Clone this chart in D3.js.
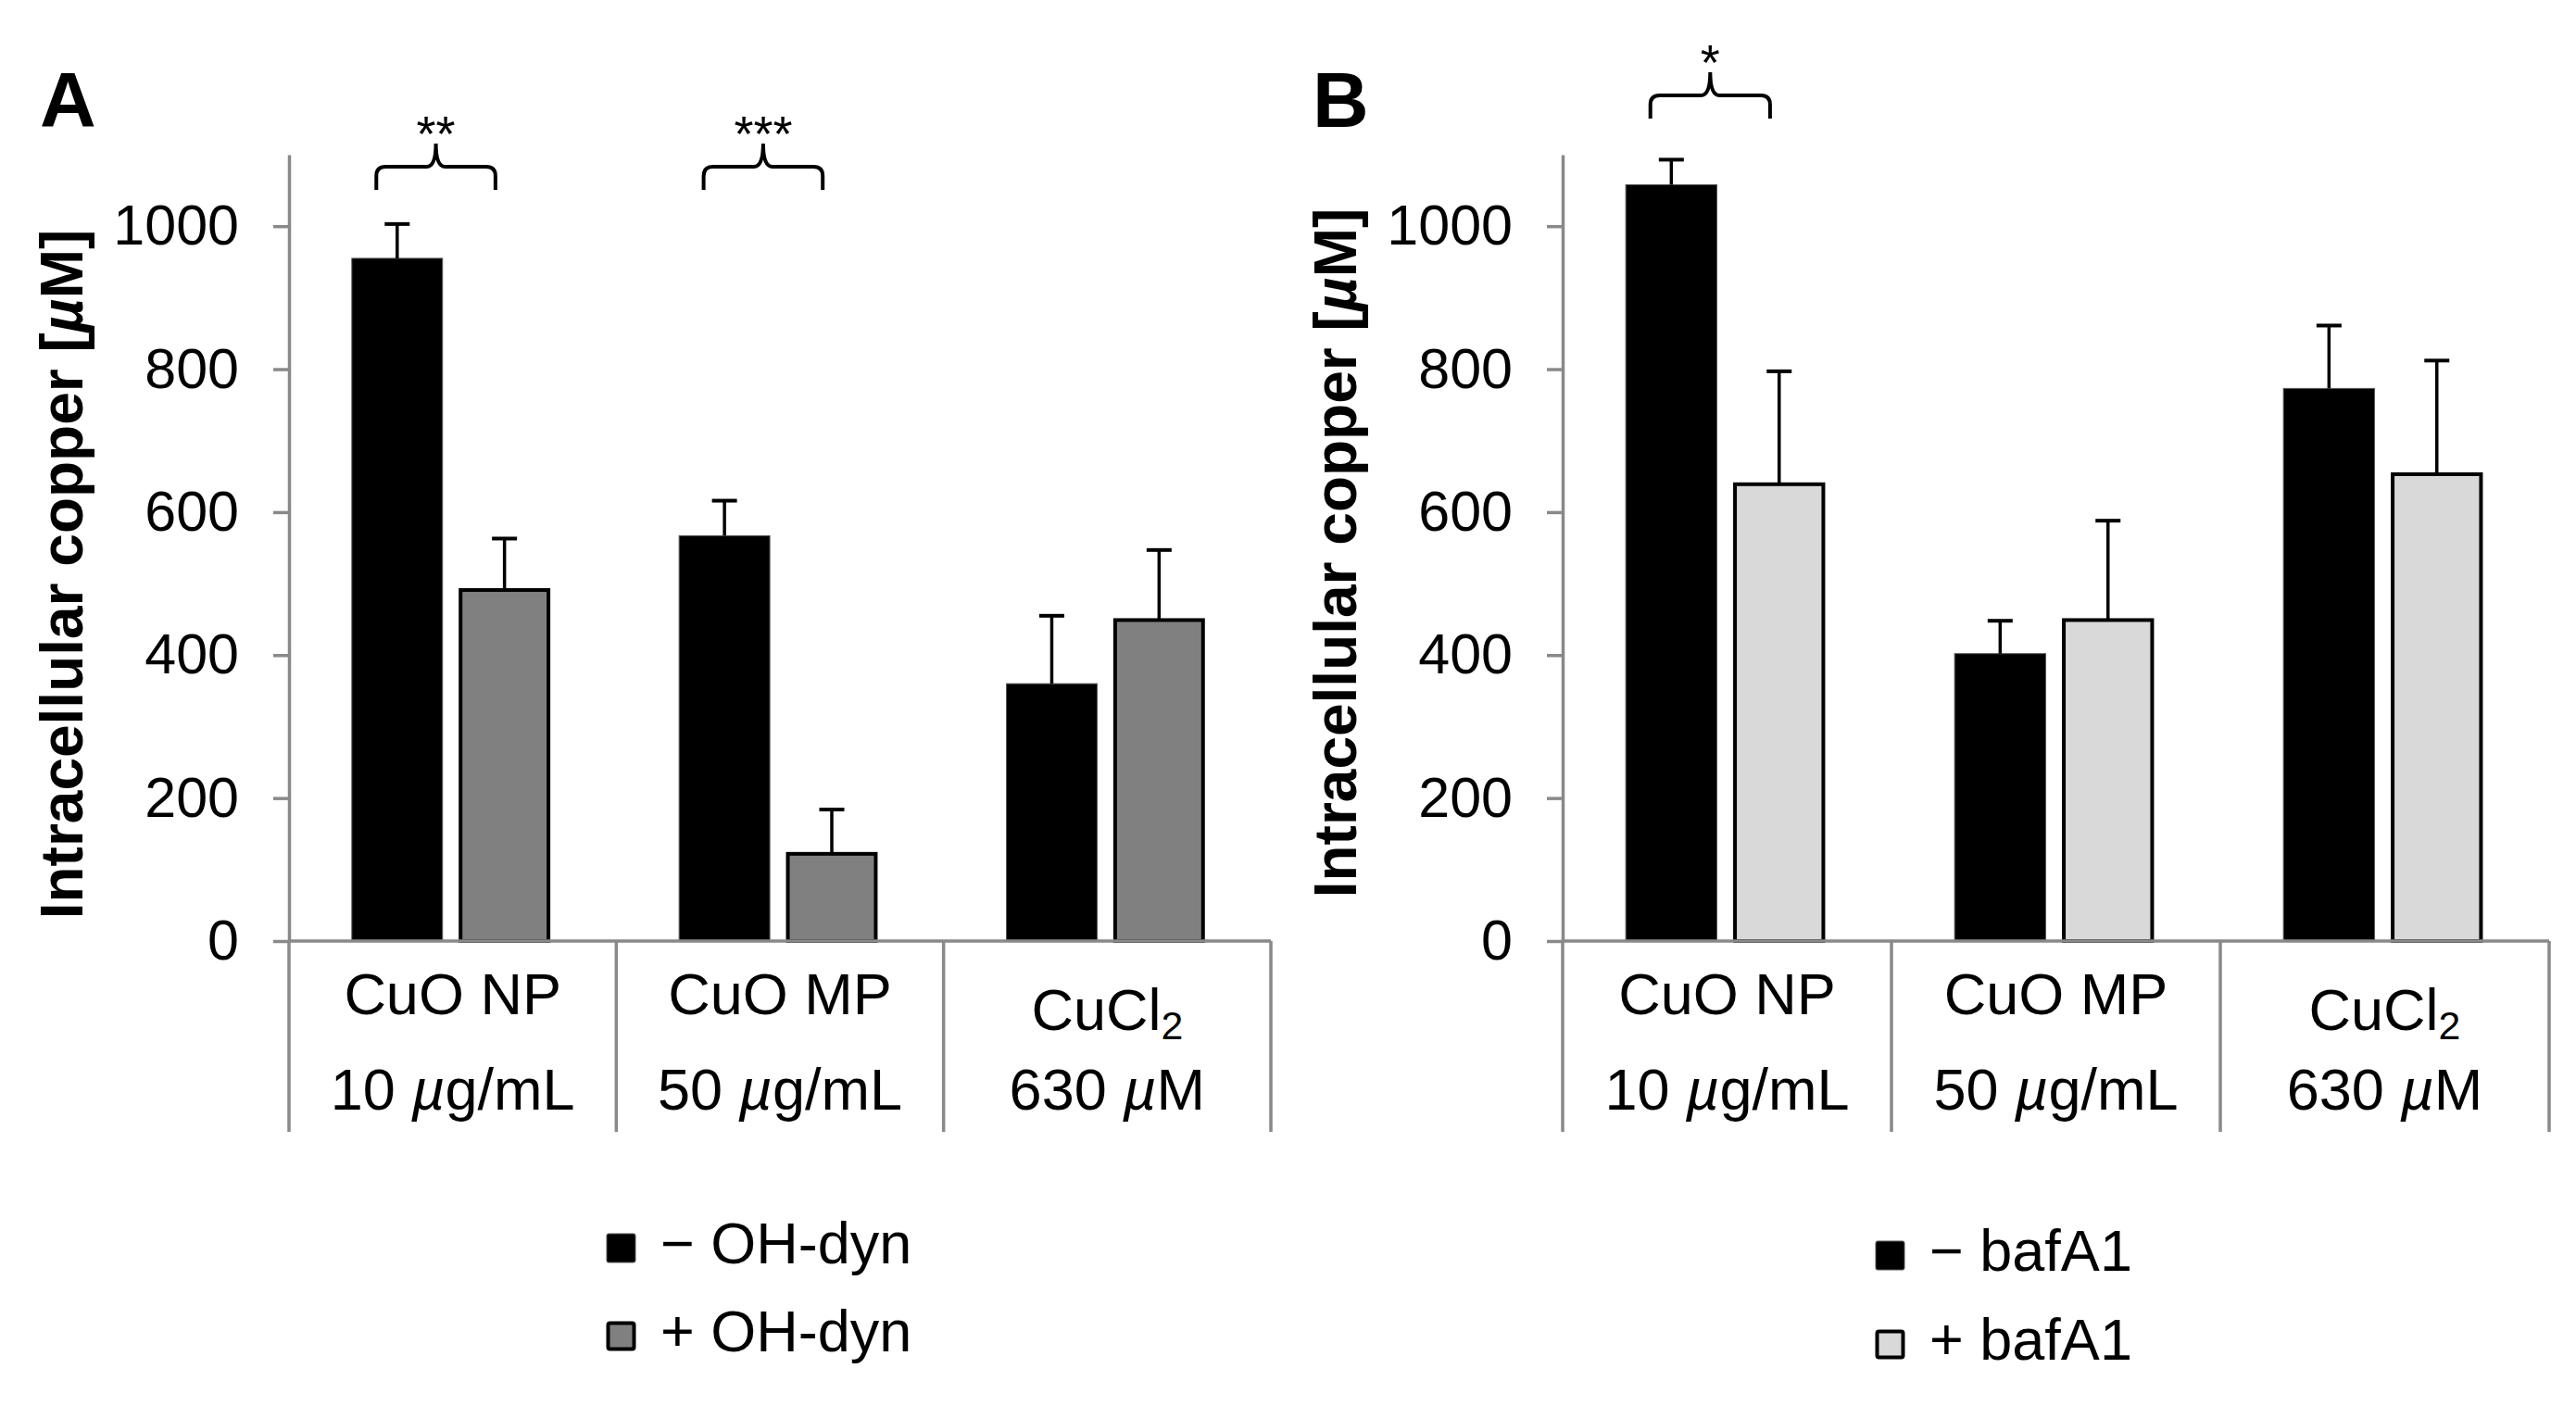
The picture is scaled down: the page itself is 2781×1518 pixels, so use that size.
<!DOCTYPE html>
<html lang="en">
<head>
<meta charset="utf-8">
<title>Intracellular copper</title>
<script src="https://cdn.jsdelivr.net/npm/d3@7"></script>
<style>
  body { margin: 0; background: #fff; }
  svg text { font-family: "Liberation Sans", Arial, Helvetica, sans-serif; fill: #000; }
</style>
</head>
<body>
<script>
// ---- data ----
var categories = ["CuO NP", "CuO MP", "CuCl2"];
var doses = ["10 µg/mL", "50 µg/mL", "630 µM"];
var yTicks = [0, 200, 400, 600, 800, 1000];

// panel A: OH-dyn
var seriesA = ["− OH-dyn", "+ OH-dyn"];
var minusA = [955, 567, 360];
var minusErrA = [48, 49, 95];
var plusA = [491, 122, 449];
var plusErrA = [72, 62, 98];
var sigA = [["CuO NP", "**"], ["CuO MP", "***"]];
var sigLevelA = 1083;

// panel B: bafA1
var seriesB = ["− bafA1", "+ bafA1"];
var minusB = [1058, 402, 773];
var minusErrB = [35, 46, 88];
var plusB = [639, 449, 653];
var plusErrB = [158, 139, 159];
var sigB = [["CuO NP", "*"]];
var sigLevelB = 1183;

// ---- layout ----
var W = 2781, H = 1518;
var axisGrey = "#898989";

var svg = d3.select("body").append("svg")
    .attr("width", W)
    .attr("height", H);

var y = d3.scaleLinear().domain([0, 1100]).range([1016, 167]);

// write text with italic µ, and subscript trailing digits on chemical names
function richText(sel, str, sub) {
    var m = sub ? str.match(/^(.*[A-Za-z])(\d+)$/) : null;
    if (m) {
        sel.append("tspan").text(m[1]);
        sel.append("tspan").attr("font-size", "0.68em").attr("dy", 10).text(m[2]);
        return;
    }
    var parts = str.split("µ");
    parts.forEach(function(p, i) {
        if (i > 0) sel.append("tspan").attr("font-style", "italic").text("µ");
        if (p) sel.append("tspan").text(p);
    });
}

function bracketPath(xl, xr, yh) {
    var xc = (xl + xr) / 2, r = 10, d = 25;
    return "M" + xl + "," + (yh + d) +
        "L" + xl + "," + (yh + r) +
        "Q" + xl + "," + yh + " " + (xl + r) + "," + yh +
        "L" + (xc - r) + "," + yh +
        "Q" + xc + "," + yh + " " + xc + "," + (yh - d) +
        "Q" + xc + "," + yh + " " + (xc + r) + "," + yh +
        "L" + (xr - r) + "," + yh +
        "Q" + xr + "," + yh + " " + xr + "," + (yh + r) +
        "L" + xr + "," + (yh + d);
}

function drawPanel(p) {
    var g = svg.append("g");

    var x0 = d3.scaleBand().domain(categories).range([p.left, p.right]);
    var bw0 = x0.bandwidth();
    var x1 = d3.scaleBand().domain([0, 1])
        .range([0.192 * bw0, 0.797 * bw0])
        .paddingInner(0.155);
    var bw = x1.bandwidth();

    var rows = [];
    categories.forEach(function(c, i) {
        rows.push({cat: c, s: 0, v: p.minus[i], e: p.minusErr[i]});
        rows.push({cat: c, s: 1, v: p.plus[i], e: p.plusErr[i]});
    });

    // bars
    g.selectAll("rect.bar").data(rows).enter().append("rect")
        .attr("class", "bar")
        .attr("x", function(d) { return x0(d.cat) + x1(d.s) + (d.s ? 1.5 : 0); })
        .attr("y", function(d) { return y(d.v); })
        .attr("width", function(d) { return d.s ? bw - 3 : bw; })
        .attr("height", function(d) { return y(0) - y(d.v); })
        .attr("fill", function(d) { return p.colors[d.s]; })
        .attr("stroke", function(d) { return d.s ? "#000" : "#555"; })
        .attr("stroke-width", function(d) { return d.s ? 4 : 1; });

    // error bars (upper only)
    var eb = g.selectAll("g.err").data(rows).enter().append("g").attr("class", "err");
    eb.append("line")
        .attr("x1", function(d) { return x0(d.cat) + x1(d.s) + bw / 2; })
        .attr("x2", function(d) { return x0(d.cat) + x1(d.s) + bw / 2; })
        .attr("y1", function(d) { return y(d.v); })
        .attr("y2", function(d) { return y(d.v + d.e); })
        .attr("stroke", "#000").attr("stroke-width", 3.5);
    eb.append("line")
        .attr("x1", function(d) { return x0(d.cat) + x1(d.s) + bw / 2 - 13.5; })
        .attr("x2", function(d) { return x0(d.cat) + x1(d.s) + bw / 2 + 13.5; })
        .attr("y1", function(d) { return y(d.v + d.e); })
        .attr("y2", function(d) { return y(d.v + d.e); })
        .attr("stroke", "#000").attr("stroke-width", 4);

    // y axis
    var ya = g.append("g")
        .attr("transform", "translate(" + p.left + ",0)")
        .call(d3.axisLeft(y).tickValues(yTicks).tickFormat(d3.format("d"))
            .tickSize(17).tickSizeOuter(0).tickPadding(37));
    ya.select(".domain").attr("stroke", axisGrey).attr("stroke-width", 3.5);
    ya.selectAll(".tick line").attr("stroke", axisGrey).attr("stroke-width", 3.5);
    ya.selectAll(".tick text")
        .attr("font-size", 61)
        .attr("font-family", "Liberation Sans, Arial, sans-serif")
        .attr("fill", "#000");

    // x axis baseline + category separators
    g.append("line")
        .attr("x1", p.left).attr("x2", p.right)
        .attr("y1", y(0)).attr("y2", y(0))
        .attr("stroke", axisGrey).attr("stroke-width", 3.5);
    var seps = categories.map(function(c) { return x0(c); }).concat([p.right]);
    g.selectAll("line.sep").data(seps).enter().append("line")
        .attr("class", "sep")
        .attr("x1", function(d) { return d; })
        .attr("x2", function(d) { return d; })
        .attr("y1", y(0)).attr("y2", 1222)
        .attr("stroke", axisGrey).attr("stroke-width", 3.5);

    // category labels
    categories.forEach(function(c, i) {
        var cx = x0(c) + bw0 / 2;
        var hasSub = /\d$/.test(c);
        var t1 = g.append("text")
            .attr("x", cx).attr("y", hasSub ? 1112 : 1095)
            .attr("text-anchor", "middle").attr("font-size", 63);
        richText(t1, c, true);
        var t2 = g.append("text")
            .attr("x", cx).attr("y", 1198)
            .attr("text-anchor", "middle").attr("font-size", 63);
        richText(t2, doses[i], false);
    });

    // y title
    var tt = g.append("text")
        .attr("transform", "translate(" + (p.left - 223) + "," + p.titleY + ") rotate(-90)")
        .attr("text-anchor", "middle")
        .attr("font-size", 64)
        .attr("font-weight", "bold");
    richText(tt, "Intracellular copper [µM]", false);

    // panel letter
    g.append("text")
        .attr("x", p.letterX).attr("y", 137)
        .attr("font-size", 84).attr("font-weight", "bold")
        .text(p.letter);

    // significance brackets
    p.sig.forEach(function(s) {
        var bx = x0(s[0]);
        var xl = bx + x1(0) + 0.27 * bw;
        var xr = bx + x1(1) + 0.4 * bw;
        var yh = y(p.sigLevel);
        g.append("path")
            .attr("d", bracketPath(xl, xr, yh))
            .attr("fill", "none").attr("stroke", "#000").attr("stroke-width", 4);
        g.append("text")
            .attr("x", (xl + xr) / 2).attr("y", yh - 17)
            .attr("text-anchor", "middle").attr("font-size", 54)
            .text(s[1]);
    });

    // legend
    p.series.forEach(function(name, i) {
        var ly = p.legendY[i];
        g.append("rect")
            .attr("x", p.legendX + (i ? 1.5 : 0)).attr("y", ly + (i ? 1.5 : 0))
            .attr("width", i ? 28 : 31).attr("height", i ? 28 : 31)
            .attr("rx", 2)
            .attr("fill", p.colors[i])
            .attr("stroke", i ? "#000" : "#555")
            .attr("stroke-width", i ? 4 : 1);
        g.append("text")
            .attr("x", p.legendX + 58).attr("y", ly + 32)
            .attr("font-size", 63)
            .text(name);
    });
}

drawPanel({
    letter: "A", letterX: 43, left: 312, right: 1372, titleY: 620,
    series: seriesA, minus: minusA, minusErr: minusErrA, plus: plusA, plusErr: plusErrA,
    colors: ["#000000", "#808080"], sig: sigA, sigLevel: sigLevelA,
    legendX: 655, legendY: [1332, 1427]
});
drawPanel({
    letter: "B", letterX: 1417, left: 1687, right: 2752, titleY: 597,
    series: seriesB, minus: minusB, minusErr: minusErrB, plus: plusB, plusErr: plusErrB,
    colors: ["#000000", "#d9d9d9"], sig: sigB, sigLevel: sigLevelB,
    legendX: 2025, legendY: [1340, 1436]
});
</script>
</body>
</html>
